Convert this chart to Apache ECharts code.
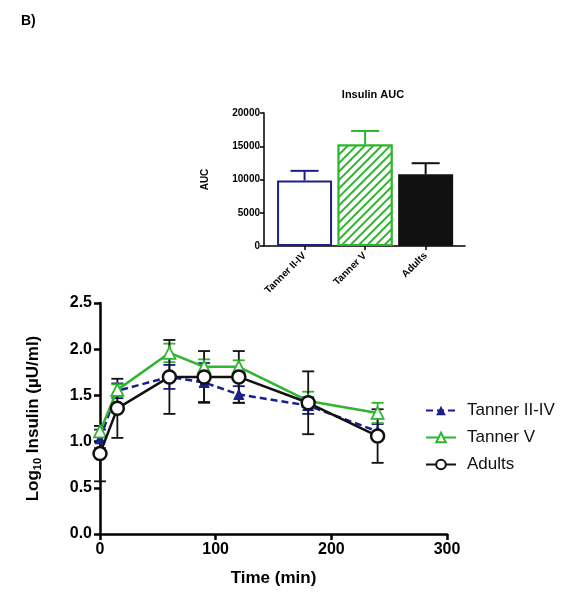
<!DOCTYPE html>
<html><head><meta charset="utf-8">
<script src="https://cdn.jsdelivr.net/npm/echarts@6/dist/echarts.min.js"></script>
<style>html,body{margin:0;padding:0;background:#fff}#c{width:578px;height:601px}</style>
</head><body><div id="c"></div>
<script>
// Main time-course data
const times = [0, 15, 60, 90, 120, 180, 240];
const tannerIIIV = [1.03, 1.55, 1.70, 1.64, 1.51, 1.39, 1.11];
const tannerIIIVErr = [0.10, 0.08, 0.13, 0.21, 0.09, 0.09, 0.08];
const tannerV = [1.11, 1.56, 1.96, 1.81, 1.81, 1.44, 1.31];
const tannerVErr = [0.06, 0.06, 0.10, 0.08, 0.07, 0.10, 0.11];
const adults = [0.87, 1.36, 1.70, 1.70, 1.70, 1.42, 1.06];
const adultsErr = [0.30, 0.32, 0.40, 0.28, 0.28, 0.34, 0.29];
const xTicks = [0, 100, 200, 300];
const yTicks = [0, 0.5, 1.0, 1.5, 2.0, 2.5];
// Inset AUC data
const aucCategories = ['Tanner II-IV', 'Tanner V', 'Adults'];
const aucValues = [9850, 15250, 10800];
const aucErr = [1450, 2050, 1650];
const aucPositions = [0, 1, 2];

const NAVY = '#1b1f8a', GREEN = '#2fb52f', BLACK = '#111';
const FONT = '"Liberation Sans", Arial, sans-serif';

function errData(vals, errs) { return times.map((t, i) => [t, vals[i] - errs[i], vals[i] + errs[i]]); }
function errSeries(vals, errs, color) {
  return {
    type: 'custom', xAxisIndex: 1, yAxisIndex: 1, z: 1, silent: true,
    data: errData(vals, errs),
    renderItem: function (params, api) {
      const x = api.value(0);
      const lo = api.coord([x, api.value(1)]);
      const hi = api.coord([x, api.value(2)]);
      const w = 6;
      const st = { stroke: color, lineWidth: 1.8 };
      return { type: 'group', children: [
        { type: 'line', shape: { x1: lo[0], y1: lo[1], x2: hi[0], y2: hi[1] }, style: st },
        { type: 'line', shape: { x1: lo[0] - w, y1: lo[1], x2: lo[0] + w, y2: lo[1] }, style: st },
        { type: 'line', shape: { x1: hi[0] - w, y1: hi[1], x2: hi[0] + w, y2: hi[1] }, style: st }
      ] };
    }
  };
}
const aucColors = [NAVY, GREEN, BLACK];

const chart = echarts.init(document.getElementById('c'));
chart.setOption({
  animation: false,
  backgroundColor: '#fff',
  title: [
    { text: 'B)', left: 16, top: 9, textStyle: { fontFamily: FONT, fontWeight: 'bold', fontSize: 14, color: '#000' } },
    { text: 'Insulin AUC', left: 368, top: 84, textAlign: 'center', textStyle: { fontFamily: FONT, fontWeight: 'bold', fontSize: 11, color: '#000' } }
  ],
  grid: [
    { left: 264, top: 113, width: 201, height: 133 },
    { left: 100, top: 303, width: 347, height: 231 }
  ],
  legend: {
    orient: 'vertical', left: 420, top: 397, itemWidth: 30, itemHeight: 12, itemGap: 10,
    textStyle: { fontFamily: FONT, fontSize: 17, color: '#111', padding: [0, 0, 0, 6] },
    data: ['Tanner II-IV', 'Tanner V', 'Adults']
  },
  xAxis: [
    { gridIndex: 0, type: 'value', min: -0.67, max: 2.65,
      splitLine: { show: false },
      axisLine: { onZero: false, lineStyle: { color: '#000', width: 1.5 } },
      axisTick: { length: 4, customValues: aucPositions, lineStyle: { color: '#000', width: 1.5 } },
      axisLabel: { rotate: 45, fontFamily: FONT, fontWeight: 'bold', fontSize: 10, color: '#000', margin: 8,
        customValues: aucPositions, formatter: v => aucCategories[Math.round(v)] } },
    { gridIndex: 1, type: 'value', min: 0, max: 300, interval: 100,
      name: 'Time (min)', nameLocation: 'middle', nameGap: 36,
      nameTextStyle: { fontFamily: FONT, fontWeight: 'bold', fontSize: 17, color: '#000' },
      splitLine: { show: false },
      axisLine: { onZero: false, lineStyle: { color: '#000', width: 2.5 } },
      axisTick: { length: 6, lineStyle: { color: '#000', width: 2.5 } },
      axisLabel: { fontFamily: FONT, fontWeight: 'bold', fontSize: 16, color: '#000', margin: 8,
        customValues: xTicks } }
  ],
  yAxis: [
    { gridIndex: 0, type: 'value', min: 0, max: 20000, interval: 5000,
      name: 'AUC', nameLocation: 'middle', nameGap: 54, nameRotate: 90,
      nameTextStyle: { fontFamily: FONT, fontWeight: 'bold', fontSize: 10, color: '#000' },
      splitLine: { show: false },
      axisLine: { show: true, onZero: false, lineStyle: { color: '#000', width: 1.5 } },
      axisTick: { show: true, length: 4, lineStyle: { color: '#000', width: 1.5 } },
      axisLabel: { fontFamily: FONT, fontWeight: 'bold', fontSize: 10, color: '#000', margin: 4,
        formatter: v => String(v) } },
    { gridIndex: 1, type: 'value', min: 0, max: 2.5, interval: 0.5,
      name: 'Log{sub|10} Insulin (µU/ml)', nameLocation: 'middle', nameGap: 57, nameRotate: 90,
      nameTextStyle: { fontFamily: FONT, fontWeight: 'bold', fontSize: 17, color: '#000',
        rich: { sub: { fontFamily: FONT, fontWeight: 'bold', fontSize: 11, color: '#000', verticalAlign: 'bottom', padding: [8, 0, 0, 0] } } },
      splitLine: { show: false },
      axisLine: { show: true, onZero: false, lineStyle: { color: '#000', width: 2.5 } },
      axisTick: { show: true, length: 6, lineStyle: { color: '#000', width: 2.5 } },
      axisLabel: { fontFamily: FONT, fontWeight: 'bold', fontSize: 16, color: '#000', margin: 8,
        customValues: yTicks, formatter: v => v.toFixed(1) } }
  ],
  series: [
    { type: 'bar', xAxisIndex: 0, yAxisIndex: 0, barWidth: 55, z: 2,
      data: aucValues.map((v, i) => ({
        value: [aucPositions[i], v],
        itemStyle: i === 0 ? { color: '#fff', borderColor: NAVY, borderWidth: 2 }
          : i === 1 ? { color: '#fff', borderColor: GREEN, borderWidth: 2,
              decal: { symbol: 'rect', symbolSize: 1, color: GREEN, backgroundColor: '#fff',
                dashArrayX: [1, 0], dashArrayY: [1.5, 4], rotation: -Math.PI / 4 } }
          : { color: BLACK, borderColor: BLACK, borderWidth: 2 }
      })) },
    { type: 'custom', xAxisIndex: 0, yAxisIndex: 0, z: 3, silent: true,
      data: aucValues.map((v, i) => [aucPositions[i], v, v + aucErr[i]]),
      renderItem: function (params, api) {
        const a = api.coord([api.value(0), api.value(1)]);
        const b = api.coord([api.value(0), api.value(2)]);
        const c = aucColors[params.dataIndex];
        const st = { stroke: c, lineWidth: 2 };
        return { type: 'group', children: [
          { type: 'line', shape: { x1: a[0], y1: a[1], x2: b[0], y2: b[1] }, style: st },
          { type: 'line', shape: { x1: b[0] - 14, y1: b[1], x2: b[0] + 14, y2: b[1] }, style: st }
        ] };
      } },
    errSeries(tannerIIIV, tannerIIIVErr, NAVY),
    errSeries(tannerV, tannerVErr, GREEN),
    errSeries(adults, adultsErr, BLACK),
    { name: 'Tanner II-IV', type: 'line', xAxisIndex: 1, yAxisIndex: 1, z: 4,
      data: times.map((t, i) => [t, tannerIIIV[i]]),
      lineStyle: { color: NAVY, width: 2.5, type: [7, 4] },
      itemStyle: { color: NAVY, borderColor: NAVY },
      symbol: 'triangle', symbolSize: 10 },
    { name: 'Tanner V', type: 'line', xAxisIndex: 1, yAxisIndex: 1, z: 5,
      data: times.map((t, i) => [t, tannerV[i]]),
      lineStyle: { color: GREEN, width: 2.5 },
      itemStyle: { color: '#fff', borderColor: GREEN, borderWidth: 1.8 },
      symbol: 'triangle', symbolSize: 12 },
    { name: 'Adults', type: 'line', xAxisIndex: 1, yAxisIndex: 1, z: 6,
      data: times.map((t, i) => [t, adults[i]]),
      lineStyle: { color: BLACK, width: 2.5 },
      itemStyle: { color: '#fff', borderColor: BLACK, borderWidth: 2.5 },
      symbol: 'circle', symbolSize: 13 }
  ]
});
</script>
</body></html>
